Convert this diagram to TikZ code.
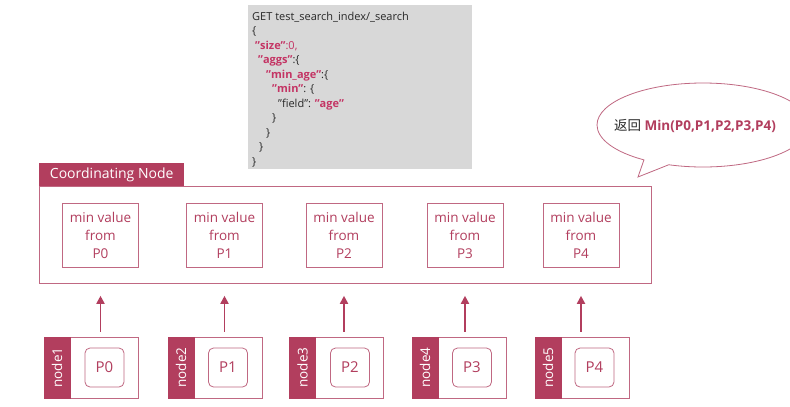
\documentclass[tikz,border=0pt]{standalone}
\usepackage{fontspec}
\setmainfont{Open Sans}
\newfontfamily\cjk{Noto Sans CJK SC}
\usetikzlibrary{arrows.meta,shapes.callouts}
\definecolor{crim}{RGB}{178,62,94}
\definecolor{edgec}{RGB}{192,104,130}
\definecolor{codebg}{RGB}{216,216,216}
\definecolor{codetx}{RGB}{40,40,40}
\definecolor{keyc}{RGB}{196,52,100}
\newcommand{\ky}[1]{\textcolor{keyc}{\bfseries #1}}
\begin{document}
\begin{tikzpicture}[x=1pt,y=-1pt,
  minbox/.style={draw=edgec, line width=0.8pt, minimum width=76pt, minimum height=64pt, inner sep=0pt, align=center, font=\fontsize{13.5}{18}\selectfont, text=crim},
  grp/.style={draw=edgec, line width=0.8pt, minimum width=94pt, minimum height=61pt, inner sep=0pt},
  strip/.style={fill=crim, draw=crim, line width=0.8pt, minimum width=26pt, minimum height=61pt, inner sep=0pt},
  striplab/.style={rotate=90, text=white, inner sep=0pt, font=\fontsize{13.5}{15}\selectfont},
  pbox/.style={draw=edgec, line width=0.8pt, rounded corners=5pt, minimum size=39pt, inner sep=0pt, font=\fontsize{15}{17}\selectfont, text=crim},
  arr/.style={draw=crim, line width=1.8pt, -{Triangle[width=8pt,length=8pt]}, shorten <=5pt, shorten >=12pt}]
\useasboundingbox (0,0) rectangle (790,407);
\clip (0,0) rectangle (790,407);
\fill[white] (0,0) rectangle (790,407);

% code box
\node[fill=codebg, minimum width=224pt, minimum height=164pt, anchor=north west, inner sep=0pt] (cbg) at (248,5) {};
\node[anchor=north west, align=left, inner sep=0pt, font=\fontsize{11}{14.5}\selectfont, text=codetx] (code) at (252,11.5) {%
GET test\_search\_index/\_search\\
\{\\
\hspace*{3pt}\ky{"size"}\textcolor{keyc}{:0,}\\
\hspace*{6pt}\ky{"aggs"}:\{\\
\hspace*{14pt}\ky{"min\_age"}:\{\\
\hspace*{20pt}\ky{"min"}: \{\\
\hspace*{26pt}"field": \ky{"age"}\\
\hspace*{20pt}\}\\
\hspace*{14pt}\}\\
\hspace*{7pt}\}\\
\}};

% speech bubble
\node[ellipse callout, draw=edgec, fill=white, line width=0.8pt, minimum width=212pt, minimum height=84pt, callout absolute pointer={(638,177)}, inner sep=0pt] (bub) at (703,125) {};
\node[inner sep=0pt, font=\fontsize{13.5}{16}\selectfont] (btxt) at (695,126) {\textcolor{codetx}{\cjk 返回}\ \textcolor{crim}{\bfseries Min(P0,P1,P2,P3,P4)}};

% coordinating node container
\node[draw=edgec, line width=0.8pt, minimum width=612pt, minimum height=97pt, anchor=north west, inner sep=0pt] (cn) at (39,186) {};
\node[fill=crim, anchor=south west, minimum width=145pt, minimum height=23pt, inner sep=0pt, text=white, font=\fontsize{14}{16}\selectfont] (hd) at (39,186.4) {Coordinating Node};

\foreach \i/\gx/\px/\mx [evaluate=\i as \j using int(\i-1)] in {1/91/104.5/100.5, 2/215/228/224.5, 3/336.5/350/344, 4/459/472/465, 5/582/594.5/581}{
  \node[minbox] (mb\i) at (\mx,235) {min value\\from\\P\j};
  \node[grp] (g\i) at (\gx,367.5) {};
  \node[strip, anchor=west] (s\i) at (g\i.west) {};
  \node[striplab] (l\i) at (s\i) {node\i};
  \node[pbox] (p\i) at (\px,367.5) {P\j};
  \draw[arr] (mb\i.south |- g\i.north) -- (mb\i.south |- cn.south);
}
\end{tikzpicture}
\end{document}
